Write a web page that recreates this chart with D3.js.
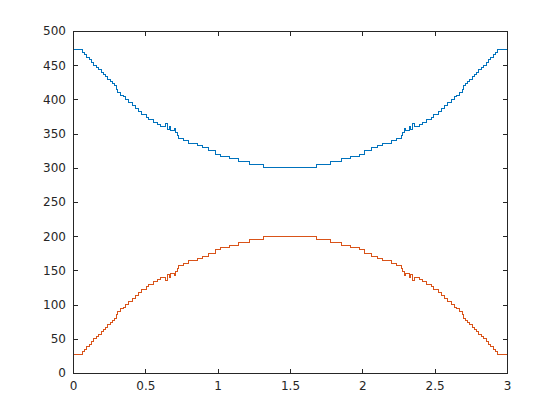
<!DOCTYPE html>
<meta charset="utf-8">
<style>
  body { margin: 0; background: #fff; }
  text { font-family: "DejaVu Sans", sans-serif; font-size: 12px; fill: #262626; }
</style>
<svg width="560" height="420"></svg>
<script src="https://d3js.org/d3.v7.min.js"></script>
<script>
  // step start positions (x) shared by both series
  var xs = [0, 0.067, 0.078, 0.092, 0.111, 0.127, 0.145, 0.164, 0.177, 0.194,
    0.210, 0.226, 0.240, 0.256, 0.272, 0.286, 0.302, 0.311, 0.325, 0.348,
    0.366, 0.387, 0.410, 0.429, 0.456, 0.475, 0.505, 0.521, 0.553, 0.581,
    0.608, 0.640, 0.652, 0.666, 0.677, 0.700, 0.707, 0.719, 0.730, 0.763,
    0.797, 0.859, 0.894, 0.935, 0.982, 1.023, 1.081, 1.145, 1.219, 1.315,
    1.685, 1.781, 1.855, 1.919, 1.977, 2.018, 2.065, 2.106, 2.141, 2.203,
    2.237, 2.270, 2.281, 2.293, 2.300, 2.323, 2.334, 2.348, 2.360, 2.392,
    2.419, 2.447, 2.479, 2.495, 2.525, 2.544, 2.571, 2.590, 2.613, 2.634,
    2.652, 2.675, 2.689, 2.698, 2.714, 2.728, 2.744, 2.760, 2.774, 2.790,
    2.806, 2.823, 2.836, 2.855, 2.873, 2.889, 2.908, 2.922, 2.933, 3]

  var upper = [473, 469, 465, 461, 458, 454, 450, 447, 443, 440,
    437, 433, 429, 426, 423, 420, 414, 410, 406, 404,
    400, 396, 391, 387, 382, 378, 374, 370, 366, 363,
    360, 365, 356, 360, 355, 357, 351, 347, 343, 340,
    336, 332, 329, 325, 320, 317, 313, 309, 305, 300,
    305, 309, 313, 317, 320, 325, 329, 332, 336, 340,
    343, 347, 351, 357, 355, 360, 356, 365, 360, 363,
    366, 370, 374, 378, 382, 387, 391, 396, 400, 404,
    406, 410, 414, 420, 423, 426, 429, 433, 437, 440,
    443, 447, 450, 454, 458, 461, 465, 469, 473, 473]

  var lower = [27, 31, 35, 39, 42, 46, 50, 53, 57, 60,
    63, 67, 71, 74, 77, 80, 86, 90, 94, 96,
    100, 104, 109, 113, 118, 122, 126, 130, 134, 137,
    140, 135, 144, 140, 145, 143, 149, 153, 157, 160,
    164, 168, 171, 175, 180, 183, 187, 191, 195, 200,
    195, 191, 187, 183, 180, 175, 171, 168, 164, 160,
    157, 153, 149, 143, 145, 140, 144, 135, 140, 137,
    134, 130, 126, 122, 118, 113, 109, 104, 100, 96,
    94, 90, 86, 80, 77, 74, 71, 67, 63, 60,
    57, 53, 50, 46, 42, 39, 35, 31, 27, 27]

  var xTicks = [0, 0.5, 1, 1.5, 2, 2.5, 3]
  var yTicks = [0, 50, 100, 150, 200, 250, 300, 350, 400, 450, 500]

  var plotL = 73, plotR = 507, plotT = 31, plotB = 373

  var svg = d3.select('svg')

  var x = d3.scaleLinear().domain([0, 3]).range([plotL, plotR])
  var y = d3.scaleLinear().domain([0, 500]).range([plotB, plotT])

  // lines
  var line = d3.line()
    .x(d => x(d[0]))
    .y(d => y(d[1]))
    .curve(d3.curveStepAfter)

  svg.append('path')
    .datum(xs.map((v, i) => [v, upper[i]]))
    .attr('fill', 'none')
    .attr('stroke', '#0072BD')
    .attr('stroke-width', 1)
    .attr('shape-rendering', 'crispEdges')
    .attr('d', line)

  svg.append('path')
    .datum(xs.map((v, i) => [v, lower[i]]))
    .attr('fill', 'none')
    .attr('stroke', '#D95319')
    .attr('stroke-width', 1)
    .attr('shape-rendering', 'crispEdges')
    .attr('d', line)

  var tickLen = 4.5

  // axes, ticks inside
  svg.append('g')
    .attr('transform', 'translate(0,' + plotB + ')')
    .call(d3.axisBottom(x).tickValues(xTicks).tickSizeInner(-tickLen).tickSizeOuter(0).tickPadding(8)
      .tickFormat(d3.format('')))
  svg.append('g')
    .attr('transform', 'translate(0,' + plotT + ')')
    .call(d3.axisTop(x).tickValues(xTicks).tickSizeInner(-tickLen).tickSizeOuter(0).tickFormat(''))
  svg.append('g')
    .attr('transform', 'translate(' + plotL + ',0)')
    .call(d3.axisLeft(y).tickValues(yTicks).tickSizeInner(-tickLen).tickSizeOuter(0).tickPadding(7))
  svg.append('g')
    .attr('transform', 'translate(' + plotR + ',0)')
    .call(d3.axisRight(y).tickValues(yTicks).tickSizeInner(-tickLen).tickSizeOuter(0).tickFormat(''))

  svg.selectAll('.domain, .tick line')
    .attr('stroke', '#262626')
    .attr('shape-rendering', 'crispEdges')
  svg.selectAll('.tick text')
    .attr('fill', '#262626')
    .style('font-family', '"DejaVu Sans", sans-serif')
    .style('font-size', '12px')

  // box
  svg.append('rect')
    .attr('x', plotL).attr('y', plotT)
    .attr('width', plotR - plotL).attr('height', plotB - plotT)
    .attr('fill', 'none')
    .attr('stroke', '#262626')
    .attr('stroke-width', 1)
    .attr('shape-rendering', 'crispEdges')
</script>
